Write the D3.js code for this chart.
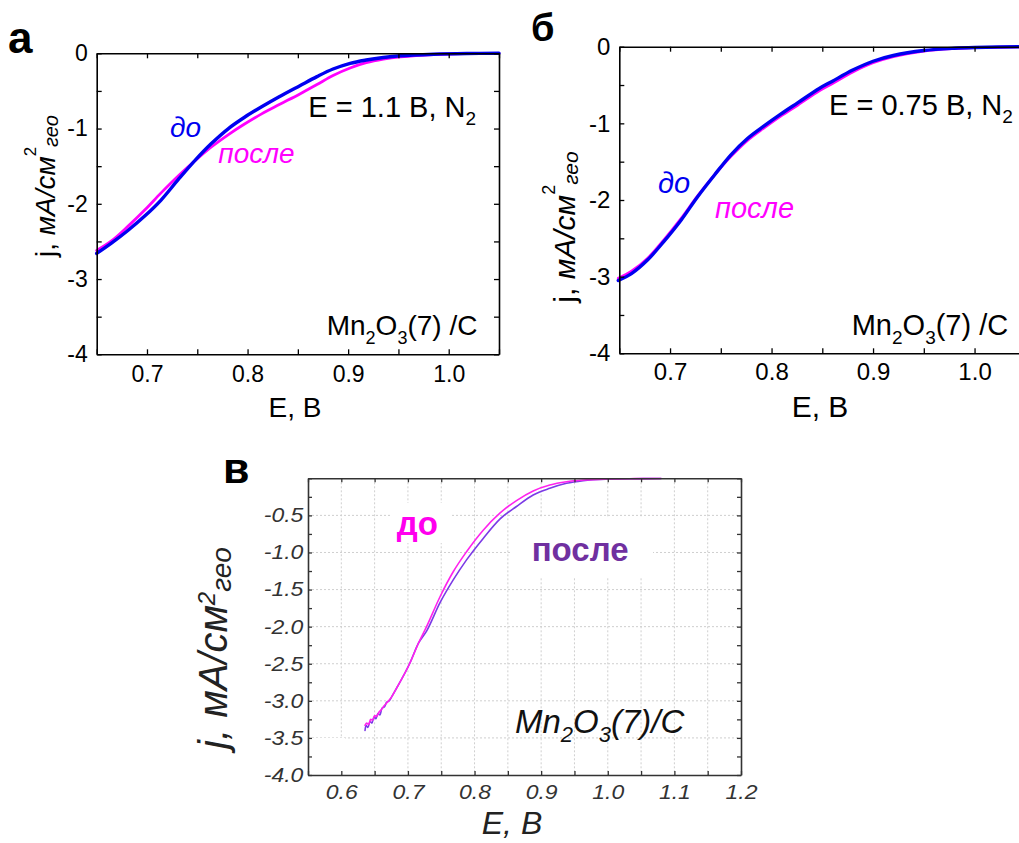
<!DOCTYPE html>
<html><head><meta charset="utf-8">
<script src="https://cdn.jsdelivr.net/npm/d3@7"></script>
<style>body{margin:0;background:#fff}svg{display:block;font-family:"Liberation Sans",Arial,sans-serif}</style>
</head><body><svg id="c" width="1019" height="843"></svg>
<script>
// ---------- Panel а (E = 1.1 В, N2) ----------
const aE      = [0.65,0.665,0.681,0.698,0.714,0.731,0.748,0.764,0.781,0.797,0.814,0.831,0.852,0.869,0.885,0.902,0.918,0.935,0.952,0.985,1.018,1.05];
const aBefore = [-2.66,-2.52,-2.355,-2.16,-1.95,-1.68,-1.42,-1.20,-1.00,-0.85,-0.71,-0.58,-0.43,-0.31,-0.209,-0.133,-0.089,-0.055,-0.032,-0.012,-0.003,0];
const aAfter  = [-2.62,-2.49,-2.30,-2.08,-1.855,-1.63,-1.425,-1.245,-1.08,-0.94,-0.805,-0.685,-0.54,-0.415,-0.295,-0.195,-0.125,-0.078,-0.048,-0.016,-0.004,0];
const aXLabels = [0.7,0.8,0.9,1.0];
const aYLabels = [0,-1,-2,-3,-4];

// ---------- Panel б (E = 0.75 В, N2) ----------
const bE      = [0.649,0.662,0.678,0.694,0.711,0.727,0.744,0.760,0.776,0.793,0.809,0.826,0.847,0.86,0.88,0.90,0.92,0.95,0.98,1.0,1.05];
const bBefore = [-3.05,-2.96,-2.78,-2.54,-2.26,-1.96,-1.67,-1.41,-1.20,-1.03,-0.88,-0.73,-0.545,-0.45,-0.305,-0.19,-0.115,-0.05,-0.02,-0.01,0];
const bAfter  = [-3.02,-2.93,-2.76,-2.52,-2.24,-1.95,-1.67,-1.43,-1.225,-1.055,-0.905,-0.76,-0.575,-0.48,-0.33,-0.21,-0.13,-0.058,-0.024,-0.012,0];
const bXLabels = [0.7,0.8,0.9,1.0];
const bYLabels = [0,-1,-2,-3,-4];

// ---------- Panel в ----------
const cEBefore = [0.6356,0.638,0.641,0.644,0.647,0.650,0.653,0.656,0.660,0.664,0.668,0.672,0.676,0.683,0.703,0.716,0.728,0.748,0.768,0.788,0.813,0.838,0.863,0.888,0.913,0.938,0.963,1.0,1.04,1.08];
const cBefore  = [-3.33,-3.30,-3.32,-3.25,-3.26,-3.20,-3.21,-3.16,-3.12,-3.07,-3.03,-2.99,-2.94,-2.83,-2.49,-2.22,-2.00,-1.60,-1.26,-0.99,-0.70,-0.47,-0.30,-0.17,-0.09,-0.046,-0.023,-0.01,-0.005,-0.003];
const cEAfter  = [0.6356,0.637,0.640,0.643,0.646,0.649,0.652,0.655,0.658,0.661,0.665,0.668,0.672,0.676,0.683,0.703,0.716,0.728,0.748,0.768,0.788,0.813,0.838,0.863,0.888,0.913,0.938,0.963,1.0,1.04,1.08];
const cAfter   = [-3.40,-3.33,-3.36,-3.28,-3.30,-3.22,-3.24,-3.17,-3.19,-3.10,-3.08,-3.02,-3.00,-2.94,-2.83,-2.49,-2.22,-2.06,-1.68,-1.37,-1.10,-0.81,-0.55,-0.38,-0.225,-0.135,-0.068,-0.032,-0.012,-0.006,-0.003];
const cXLabels = [0.6,0.7,0.8,0.9,1.0,1.1,1.2];
const cYLabels = [-0.5,-1.0,-1.5,-2.0,-2.5,-3.0,-3.5,-4.0];

const svg = d3.select("#c");
const FONT = '"Liberation Sans", Arial, sans-serif';
const near = (arr, d) => arr.some(m => Math.abs(m - d) < 1e-9);
const steps = (a, b, s) => d3.range(0, Math.round((b - a) / s) + 1).map(i => +(a + i * s).toFixed(4));

function rich(g, x, y, parts, o = {}) {
  const t = g.append("text").attr("x", x).attr("y", y)
    .attr("font-size", o.size || 28).attr("fill", o.fill || "#000")
    .attr("text-anchor", o.anchor || "start")
    .attr("font-style", o.italic ? "italic" : "normal")
    .attr("font-weight", o.bold ? "bold" : "normal");
  if (o.transform) t.attr("transform", o.transform);
  parts.forEach(p => {
    if (typeof p === "string") p = { t: p };
    const s = t.append("tspan").text(p.t);
    if (p.size) s.attr("font-size", p.size);
    if (p.dy) s.attr("dy", p.dy);
    if (p.italic !== undefined) s.attr("font-style", p.italic ? "italic" : "normal");
  });
  return t;
}

function styleAxis(sel, c) {
  sel.attr("font-family", FONT).attr("font-size", c.fs);
  sel.select(".domain").attr("stroke", c.color).attr("stroke-width", 1.6);
  sel.selectAll(".tick line").attr("stroke", c.color).attr("stroke-width", 1.3);
  const tx = sel.selectAll(".tick text").attr("fill", c.textColor || c.color)
     .attr("font-style", c.italic ? "italic" : "normal");
  if (c.stretch) tx.attr("transform", `scale(${c.stretch},1)`);
}

function drawAxes(g, x, y, c) {
  const fx = d => near(c.xLabels, d) ? d.toFixed(1) : "";
  const fy = d => near(c.yLabels, d) ? c.yFmt(d) : "";
  const mx = c.xMinor, my = c.yMinor;
  const y0 = y.range()[0], y1 = y.range()[1], x0 = x.range()[0], x1 = x.range()[1];
  g.append("g").attr("transform", `translate(0,${y0})`)
    .call(d3.axisBottom(x).tickValues(mx).tickSize(-c.tick).tickSizeOuter(0).tickPadding(c.xpad).tickFormat(fx))
    .call(s => styleAxis(s, c));
  g.append("g").attr("transform", `translate(0,${y1})`)
    .call(d3.axisTop(x).tickValues(mx).tickSize(-c.tick).tickSizeOuter(0).tickFormat(""))
    .call(s => styleAxis(s, c));
  g.append("g").attr("transform", `translate(${x0},0)`)
    .call(d3.axisLeft(y).tickValues(my).tickSize(-c.tick).tickSizeOuter(0).tickPadding(c.ypad).tickFormat(fy))
    .call(s => styleAxis(s, c));
  g.append("g").attr("transform", `translate(${x1},0)`)
    .call(d3.axisRight(y).tickValues(my).tickSize(-c.tick).tickSizeOuter(0).tickFormat(""))
    .call(s => styleAxis(s, c));
}

function drawCurve(g, x, y, xs, ys, color, w, curve) {
  const line = d3.line().x(d => x(d[0])).y(d => y(d[1])).curve(curve || d3.curveCatmullRom.alpha(0.5));
  g.append("path").datum(xs.map((v, i) => [v, ys[i]]))
    .attr("d", line).attr("fill", "none").attr("stroke", color)
    .attr("stroke-width", w).attr("stroke-linejoin", "round").attr("stroke-linecap", "round");
}

// ================= Panel а =================
(function () {
  const g = svg.append("g");
  const x = d3.scaleLinear().domain([0.65, 1.05]).range([96.7, 499]);
  const y = d3.scaleLinear().domain([-4, 0]).range([354.3, 53.3]);
  drawCurve(g, x, y, aE, aAfter, "#ff00ff", 2.8);
  drawCurve(g, x, y, aE, aBefore, "#0000f0", 3.4);
  drawAxes(g, x, y, { xLabels: aXLabels, yLabels: aYLabels, yFmt: d => String(d),
    xMinor: steps(0.65, 1.05, 0.05), yMinor: steps(-4, 0, 0.5), tick: 5, xpad: 11, ypad: 9, fs: 23, color: "#000" });
  rich(g, 8, 53, ["а"], { size: 44, bold: true });
  rich(g, 295, 417, ["E, В"], { size: 28, anchor: "middle" });
  rich(g, 0, 0, ["j, ", { t: "мА/см", italic: true }, { t: "2", size: 17, dy: -19 }, { t: "гео", size: 20, dy: 22, italic: true }],
    { size: 28, anchor: "middle", transform: "translate(55,186) rotate(-90)" });
  rich(g, 308.3, 116.7, ["E = 1.1 В, N", { t: "2", size: 19, dy: 8 }], { size: 29 });
  rich(g, 170, 137, ["до"], { size: 28, italic: true, fill: "#0000f0" });
  rich(g, 218.3, 163.3, ["после"], { size: 28, italic: true, fill: "#ff00ff" });
  rich(g, 326.7, 335, ["Mn", { t: "2", size: 18, dy: 9 }, { t: "O", dy: -9 }, { t: "3", size: 18, dy: 9 }, { t: "(7) /C", dy: -9 }], { size: 28 });
})();

// ================= Panel б =================
(function () {
  const g = svg.append("g");
  const x = d3.scaleLinear().domain([0.65, 1.05]).range([619.3, 1025.3]);
  const y = d3.scaleLinear().domain([-4, 0]).range([353.3, 46.7]);
  drawCurve(g, x, y, bE, bAfter, "#ff00ff", 2.8);
  drawCurve(g, x, y, bE, bBefore, "#0000f0", 3.4);
  drawAxes(g, x, y, { xLabels: bXLabels, yLabels: bYLabels, yFmt: d => String(d),
    xMinor: steps(0.65, 1.05, 0.05), yMinor: steps(-4, 0, 0.5), tick: 5, xpad: 10, ypad: 9, fs: 24, color: "#000" });
  rich(g, 531, 41, ["б"], { size: 38, bold: true });
  rich(g, 820, 417, ["E, В"], { size: 30, anchor: "middle" });
  rich(g, 0, 0, ["j, ", { t: "мА/см", italic: true }, { t: "2", size: 18, dy: -20 }, { t: "гео", size: 21, dy: 23, italic: true }],
    { size: 30, anchor: "middle", transform: "translate(575,227) rotate(-90)" });
  rich(g, 829, 115, ["E = 0.75 В, N", { t: "2", size: 19, dy: 8 }], { size: 29 });
  rich(g, 658, 193, ["до"], { size: 29, italic: true, fill: "#0000f0" });
  rich(g, 715, 218, ["после"], { size: 29, italic: true, fill: "#ff00ff" });
  rich(g, 851.7, 335, ["Mn", { t: "2", size: 19, dy: 9 }, { t: "O", dy: -9 }, { t: "3", size: 19, dy: 9 }, { t: "(7) /C", dy: -9 }], { size: 29 });
})();

// ================= Panel в =================
(function () {
  const g = svg.append("g");
  const x = d3.scaleLinear().domain([0.55, 1.2]).range([308, 741]);
  const y = d3.scaleLinear().domain([-4, 0]).range([775, 478.3]);
  const gx = steps(0.6, 1.15, 0.05);
  const gy = cYLabels.filter(d => d > -3.9);
  g.append("g").selectAll("line").data(gx).join("line")
    .attr("x1", d => x(d)).attr("x2", d => x(d)).attr("y1", y(0)).attr("y2", y(-4))
    .attr("stroke", "#cfcfcf").attr("stroke-dasharray", "2,2");
  g.append("g").selectAll("line").data(gy).join("line")
    .attr("x1", x(0.55)).attr("x2", x(1.2)).attr("y1", d => y(d)).attr("y2", d => y(d))
    .attr("stroke", "#cfcfcf").attr("stroke-dasharray", "2,2");
  // white patches (pasted-label backgrounds in the original figure)
  g.append("rect").attr("x", 390).attr("y", 503).attr("width", 62).attr("height", 40).attr("fill", "#fff");
  g.append("rect").attr("x", 510).attr("y", 518).attr("width", 143).attr("height", 60).attr("fill", "#fff");
  g.append("rect").attr("x", 309).attr("y", 738).attr("width", 36).attr("height", 36).attr("fill", "#fff");
  drawCurve(g, x, y, cEAfter, cAfter, "#7b3ae6", 1.6, d3.curveMonotoneX);
  drawCurve(g, x, y, cEBefore, cBefore, "#ff22ee", 1.6, d3.curveMonotoneX);
  drawAxes(g, x, y, { xLabels: cXLabels, yLabels: cYLabels, yFmt: d => d.toFixed(1),
    xMinor: steps(0.55, 1.2, 0.05), yMinor: steps(-4, 0, 0.25), tick: 4, xpad: 10, ypad: 4, fs: 20,
    color: "#333", textColor: "#333", italic: true, stretch: 1.15 });
  rich(g, 223, 483, ["в"], { size: 43, bold: true });
  rich(g, 512, 834, ["E, В"], { size: 32, italic: true, anchor: "middle", fill: "#222" });
  rich(g, 0, 0, ["j, мА/см", { t: "2", size: 24, dy: -12 }, { t: "гео", size: 28, dy: 16 }],
    { size: 40, italic: true, anchor: "middle", fill: "#222", transform: "translate(227,648) rotate(-90)" });
  rich(g, 396.7, 535, ["до"], { size: 33, bold: true, fill: "#ff00ee" });
  rich(g, 531.7, 560.7, ["после"], { size: 33, bold: true, fill: "#7030a0" });
  rich(g, 515, 733, ["Mn", { t: "2", size: 22, dy: 9 }, { t: "O", dy: -9 }, { t: "3", size: 22, dy: 9 }, { t: "(7)/C", dy: -9 }],
    { size: 33, italic: true, fill: "#111" });
})();
</script></body></html>
